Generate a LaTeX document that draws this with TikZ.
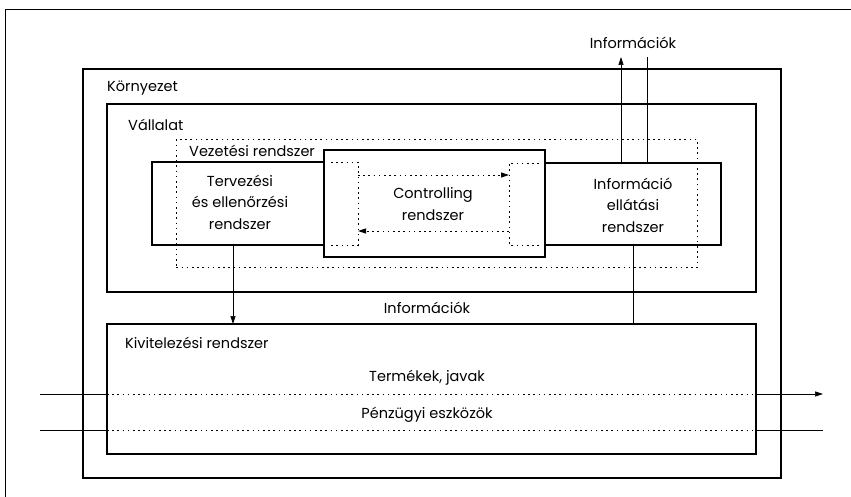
\documentclass[tikz,border=0pt]{standalone}
\usepackage{fontspec}
\setmainfont{Poppins}
\usetikzlibrary{arrows.meta,calc}
\tikzset{
  box/.style={draw,line width=1.1pt,anchor=north west,inner sep=0pt,outer sep=0pt},
  hid/.style={dash pattern=on 1.6pt off 3.6pt,line width=0.9pt},
  flow/.style={line width=0.7pt},
  arr/.style={-{Triangle[length=8pt,width=5pt]}},
  lbl/.style={inner sep=0pt,font=\fontsize{14.5}{17}\selectfont},
  mlbl/.style={lbl,align=center,font=\fontsize{14.5}{21.5}\selectfont}
}
\begin{document}
\begin{tikzpicture}[x=1pt,y=-1pt]
\useasboundingbox (0,0) rectangle (851,497);
% outer frame (partially visible)
\draw[line width=1pt] (5,497) -- (5,10) -- (851,10);
% boxes
\node[box,minimum width=698pt,minimum height=409pt] (env) at (83,69) {};
\node[box,minimum width=649pt,minimum height=188pt] (vall) at (107,104) {};
\node[box,minimum width=649pt,minimum height=130pt] (kiv) at (107,324) {};
\node[box,minimum width=206pt,minimum height=83pt] (terv) at (152,162) {};
\node[box,minimum width=212pt,minimum height=82pt] (info) at (509,163) {};
\node[box,fill=white,minimum width=221pt,minimum height=107pt] (ctrl) at (324,150) {};
\node[hid,draw,anchor=north west,inner sep=0pt,minimum width=521pt,minimum height=128pt] (vez) at (176,139) {};
% hidden parts
\coordinate (t1) at (331,162); \coordinate (t2) at (358,162);
\coordinate (t3) at (358,245); \coordinate (t4) at (331,245);
\draw[hid] (t1) -- (t2) -- (t3) -- (t4);
\coordinate (i1) at (539,163); \coordinate (i2) at (509,163);
\coordinate (i3) at (509,245); \coordinate (i4) at (539,245);
\draw[hid] (i1) -- (i2) -- (i3) -- (i4);
% controlling arrows
\coordinate (ca1) at (358,175); \coordinate (ca2) at (509,175);
\coordinate (cb1) at (509,231); \coordinate (cb2) at (358,231);
\draw[hid,arr] (ca1) -- (ca2);
\draw[hid,arr] (cb1) -- (cb2);
% texts
\node[lbl,anchor=west] (tenv) at (107,88) {Környezet};
\node[lbl,anchor=west] (tvall) at (128,125) {Vállalat};
\node[lbl,anchor=west] (tvez) at (189,151) {Vezetési rendszer};
\node[mlbl] (tterv) at (240,202) {Tervezési\\és ellenőrzési\\rendszer};
\node[mlbl] (tctrl) at (433,204) {Controlling\\rendszer};
\node[mlbl] (tinfo) at (633,205) {Információ\\ellátási\\rendszer};
\node[lbl] (infotop) at (633,43) {Információk};
\node[lbl] (infomid) at (427,308) {Információk};
\node[lbl,anchor=west] (tkiv) at (125,343) {Kivitelezési rendszer};
\node[lbl] (ttermek) at (427,378) {Termékek, javak};
\node[lbl] (tpenz) at (427,415) {Pénzügyi eszközök};
% vertical flows
\draw[flow,arr] (terv.south -| 233,0) -- (kiv.north -| 233,0);
\draw[flow] (info.south -| 633,0) -- (kiv.north -| 633,0);
\coordinate (up1) at (621,57); \coordinate (up2) at (647,57);
\draw[flow,arr] (info.north -| up1) -- (up1);
\draw[flow] (info.north -| up2) -- (up2);
% horizontal flows
\coordinate (pa) at (40,394); \coordinate (pb) at (823,394);
\coordinate (qa) at (40,430); \coordinate (qb) at (823,430);
\draw[flow] (pa) -- (kiv.west |- pa);
\draw[hid] (kiv.west |- pa) -- (kiv.east |- pa);
\draw[flow,arr] (kiv.east |- pb) -- (pb);
\draw[flow] (qa) -- (kiv.west |- qa);
\draw[hid] (kiv.west |- qa) -- (kiv.east |- qa);
\draw[flow] (kiv.east |- qb) -- (qb);
\end{tikzpicture}
\end{document}
